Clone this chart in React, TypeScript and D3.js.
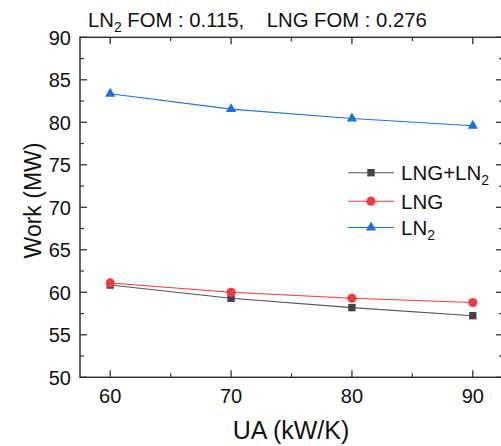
import React from "react";
import * as d3 from "d3";

const uaValues = [60, 70, 80, 90];
const lngLn2Work = [60.85, 59.3, 58.2, 57.25];
const lngWork = [61.1, 60.0, 59.3, 58.8];
const ln2Work = [83.35, 81.55, 80.45, 79.6];
const yTicks = [50, 55, 60, 65, 70, 75, 80, 85, 90];
const xTicks = [60, 70, 80, 90];

const W = 501;
const H = 446;
const L = 80, R = 503, T = 37.3, B = 377.3;
const FONT = "'Liberation Sans', Arial, sans-serif";
const AX = "#333";

const series = [
  { name: "LNG+LN", sub: "2", values: lngLn2Work, line: "#555", fill: "#444", shape: "square" },
  { name: "LNG", sub: "", values: lngWork, line: "#f03c3c", fill: "#f03c3c", shape: "circle" },
  { name: "LN", sub: "2", values: ln2Work, line: "#1f70e0", fill: "#1f70e0", shape: "triangle" },
];

function Marker({ shape, x, y, fill }: { shape: string; x: number; y: number; fill: string }) {
  if (shape === "square") return <rect x={x - 3.7} y={y - 3.7} width={7.4} height={7.4} fill={fill} />;
  if (shape === "circle") return <circle cx={x} cy={y} r={4.6} fill={fill} />;
  const path = d3.symbol(d3.symbolTriangle, 46)()!;
  return <path d={path} transform={`translate(${x},${y})`} fill={fill} />;
}

export default function App() {
  const x = d3.scaleLinear().domain([57.5, 92.5]).range([L, R]);
  const y = d3.scaleLinear().domain([50, 90]).range([B, T]);
  const line = d3.line<number>().x((_, i) => x(uaValues[i])).y((v) => y(v));

  const yMinor = d3.range(52.5, 90, 5);
  const xMinor = [65, 75, 85];
  const legendRows = [172.7, 201.2, 227.5];

  return (
    <svg width={W} height={H} style={{ position: "absolute", left: 0, top: 0, display: "block" }}>
      <rect width={W} height={H} fill="#fff" />
      {/* title */}
      <text x={88} y={27} fontFamily={FONT} fontSize={20.3} fill="#111" style={{ whiteSpace: "pre" }}>
        LN<tspan dy={5} fontSize={14}>2</tspan>
        <tspan dy={-5}>{" FOM : 0.115,    LNG FOM : 0.276"}</tspan>
      </text>

      {/* series */}
      {series.map((s) => (
        <g key={s.name + s.sub}>
          <path d={line(s.values)!} fill="none" stroke={s.line} strokeWidth={1.1} />
          {s.values.map((v, i) => (
            <Marker key={i} shape={s.shape} x={x(uaValues[i])} y={y(v)} fill={s.fill} />
          ))}
        </g>
      ))}

      {/* frame */}
      <rect x={L} y={T} width={R - L} height={B - T} fill="none" stroke={AX} strokeWidth={1.5} />

      {/* y ticks */}
      {yTicks.map((t) => (
        <g key={"y" + t}>
          <line x1={L} x2={L + 7} y1={y(t)} y2={y(t)} stroke={AX} strokeWidth={1.3} />
          <line x1={R} x2={R - 7} y1={y(t)} y2={y(t)} stroke={AX} strokeWidth={1.3} />
          <text x={71} y={y(t)} dy="0.36em" textAnchor="end" fontFamily={FONT} fontSize={20} fill="#111">
            {t}
          </text>
        </g>
      ))}
      {yMinor.map((t) => (
        <g key={"ym" + t}>
          <line x1={L} x2={L + 4} y1={y(t)} y2={y(t)} stroke={AX} strokeWidth={1.2} />
          <line x1={R} x2={R - 4} y1={y(t)} y2={y(t)} stroke={AX} strokeWidth={1.2} />
        </g>
      ))}

      {/* x ticks */}
      {xTicks.map((t) => (
        <g key={"x" + t}>
          <line x1={x(t)} x2={x(t)} y1={B} y2={B - 7} stroke={AX} strokeWidth={1.3} />
          <line x1={x(t)} x2={x(t)} y1={T} y2={T + 7} stroke={AX} strokeWidth={1.3} />
          <text x={x(t)} y={403} textAnchor="middle" fontFamily={FONT} fontSize={20} fill="#111">
            {t}
          </text>
        </g>
      ))}
      {xMinor.map((t) => (
        <g key={"xm" + t}>
          <line x1={x(t)} x2={x(t)} y1={B} y2={B - 4} stroke={AX} strokeWidth={1.2} />
          <line x1={x(t)} x2={x(t)} y1={T} y2={T + 4} stroke={AX} strokeWidth={1.2} />
        </g>
      ))}

      {/* axis titles */}
      <text x={291} y={439} textAnchor="middle" fontFamily={FONT} fontSize={25} fill="#111">
        UA (kW/K)
      </text>
      <text
        transform={`translate(41,${200.5}) rotate(-90)`}
        textAnchor="middle"
        fontFamily={FONT}
        fontSize={23}
        fill="#111"
      >
        Work (MW)
      </text>

      {/* legend */}
      {series.map((s, i) => (
        <g key={"lg" + i}>
          <line x1={348} x2={394} y1={legendRows[i]} y2={legendRows[i]} stroke={s.line} strokeWidth={1.1} />
          <Marker shape={s.shape} x={371} y={legendRows[i]} fill={s.fill} />
          <text x={401} y={legendRows[i]} dy="0.36em" fontFamily={FONT} fontSize={20.5} fill="#111">
            {s.name}
            {s.sub && (
              <tspan dy={5} fontSize={14}>
                {s.sub}
              </tspan>
            )}
          </text>
        </g>
      ))}
    </svg>
  );
}
